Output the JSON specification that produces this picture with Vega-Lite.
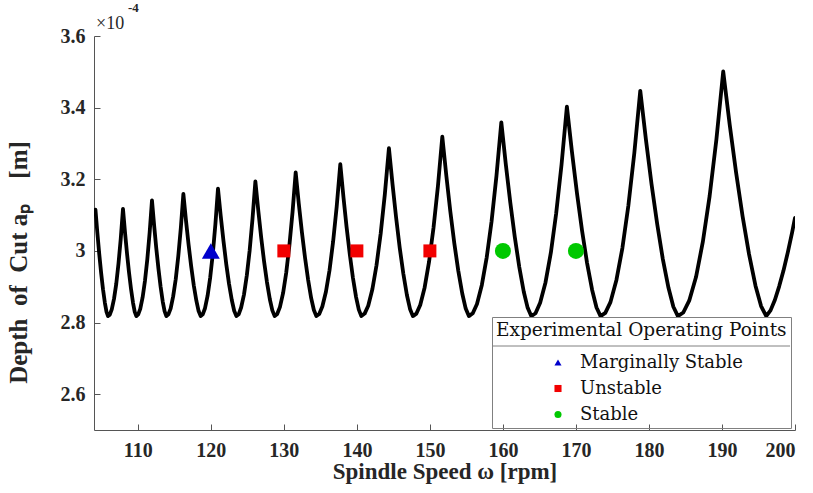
{
  "$schema": "https://vega.github.io/schema/vega-lite/v6.json",
  "width": 701,
  "height": 394,
  "autosize": {"type": "none"},
  "padding": {"left": 94, "top": 36, "right": 18, "bottom": 63},
  "background": "white",
  "config": {
    "view": {"stroke": null},
    "axis": {
      "grid": false,
      "labelFont": "Liberation Serif",
      "titleFont": "Liberation Serif",
      "labelFontWeight": "bold",
      "titleFontWeight": "bold",
      "labelFontSize": 20,
      "titleFontSize": 23,
      "labelColor": "#262626",
      "titleColor": "#262626",
      "domainColor": "#555555",
      "tickColor": "#555555",
      "tickSize": -6
    },
    "legend": {
      "orient": "none", "legendX": 398, "legendY": 281,
      "strokeColor": "#808080", "padding": 4,
      "titleFont": "DejaVu Serif", "titleFontSize": 18.5, "titleFontWeight": "normal", "titleColor": "#111111",
      "titleAnchor": "start", "titlePadding": 14, "titleLimit": 500,
      "labelFont": "DejaVu Serif", "labelFontSize": 18, "labelColor": "#111111", "labelLimit": 400,
      "symbolSize": 50, "symbolOffset": 53, "labelOffset": 13, "rowPadding": 8
    }
  },
  "datasets": {
    "lobes": [
      {"speed":104.2,"depth":3.115},{"speed":104.458,"depth":3.051},{"speed":104.716,"depth":2.992},{"speed":104.974,"depth":2.939},{"speed":105.232,"depth":2.893},{"speed":105.49,"depth":2.855},{"speed":105.714,"depth":2.830},{"speed":105.92,"depth":2.818},{"speed":106.166,"depth":2.822},{"speed":106.433,"depth":2.837},{"speed":106.74,"depth":2.866},{"speed":107.048,"depth":2.908},{"speed":107.355,"depth":2.965},{"speed":107.663,"depth":3.034},
      {"speed":107.97,"depth":3.117},{"speed":108.245,"depth":3.052},{"speed":108.519,"depth":2.993},{"speed":108.794,"depth":2.940},{"speed":109.068,"depth":2.894},{"speed":109.343,"depth":2.855},{"speed":109.58,"depth":2.830},{"speed":109.8,"depth":2.818},{"speed":110.057,"depth":2.823},{"speed":110.335,"depth":2.838},{"speed":110.656,"depth":2.870},{"speed":110.977,"depth":2.916},{"speed":111.298,"depth":2.976},{"speed":111.619,"depth":3.051},
      {"speed":111.94,"depth":3.141},{"speed":112.236,"depth":3.071},{"speed":112.531,"depth":3.007},{"speed":112.827,"depth":2.950},{"speed":113.122,"depth":2.900},{"speed":113.418,"depth":2.858},{"speed":113.674,"depth":2.831},{"speed":113.91,"depth":2.818},{"speed":114.19,"depth":2.823},{"speed":114.493,"depth":2.839},{"speed":114.842,"depth":2.873},{"speed":115.192,"depth":2.921},{"speed":115.541,"depth":2.985},{"speed":115.891,"depth":3.064},
      {"speed":116.24,"depth":3.159},{"speed":116.596,"depth":3.085},{"speed":116.951,"depth":3.018},{"speed":117.307,"depth":2.957},{"speed":117.662,"depth":2.904},{"speed":118.018,"depth":2.861},{"speed":118.326,"depth":2.832},{"speed":118.61,"depth":2.818},{"speed":118.894,"depth":2.823},{"speed":119.203,"depth":2.840},{"speed":119.558,"depth":2.875},{"speed":119.914,"depth":2.926},{"speed":120.269,"depth":2.992},{"speed":120.625,"depth":3.075},
      {"speed":120.98,"depth":3.174},{"speed":121.358,"depth":3.097},{"speed":121.736,"depth":3.027},{"speed":122.114,"depth":2.963},{"speed":122.492,"depth":2.908},{"speed":122.87,"depth":2.863},{"speed":123.198,"depth":2.833},{"speed":123.5,"depth":2.818},{"speed":123.812,"depth":2.823},{"speed":124.15,"depth":2.842},{"speed":124.54,"depth":2.878},{"speed":124.93,"depth":2.932},{"speed":125.32,"depth":3.002},{"speed":125.71,"depth":3.090},
      {"speed":126.1,"depth":3.194},{"speed":126.496,"depth":3.113},{"speed":126.892,"depth":3.038},{"speed":127.288,"depth":2.971},{"speed":127.684,"depth":2.913},{"speed":128.08,"depth":2.865},{"speed":128.423,"depth":2.834},{"speed":128.74,"depth":2.818},{"speed":129.086,"depth":2.824},{"speed":129.46,"depth":2.843},{"speed":129.892,"depth":2.882},{"speed":130.324,"depth":2.939},{"speed":130.756,"depth":3.015},{"speed":131.188,"depth":3.108},
      {"speed":131.62,"depth":3.219},{"speed":132.045,"depth":3.132},{"speed":132.469,"depth":3.053},{"speed":132.894,"depth":2.982},{"speed":133.318,"depth":2.920},{"speed":133.743,"depth":2.868},{"speed":134.11,"depth":2.835},{"speed":134.45,"depth":2.818},{"speed":134.844,"depth":2.824},{"speed":135.27,"depth":2.845},{"speed":135.762,"depth":2.886},{"speed":136.254,"depth":2.946},{"speed":136.746,"depth":3.026},{"speed":137.238,"depth":3.124},
      {"speed":137.73,"depth":3.242},{"speed":138.162,"depth":3.150},{"speed":138.594,"depth":3.066},{"speed":139.026,"depth":2.991},{"speed":139.458,"depth":2.925},{"speed":139.89,"depth":2.871},{"speed":140.264,"depth":2.836},{"speed":140.61,"depth":2.818},{"speed":141.064,"depth":2.825},{"speed":141.555,"depth":2.847},{"speed":142.122,"depth":2.893},{"speed":142.689,"depth":2.960},{"speed":143.256,"depth":3.048},{"speed":143.823,"depth":3.157},
      {"speed":144.39,"depth":3.287},{"speed":144.882,"depth":3.186},{"speed":145.374,"depth":3.093},{"speed":145.866,"depth":3.009},{"speed":146.358,"depth":2.937},{"speed":146.85,"depth":2.877},{"speed":147.276,"depth":2.838},{"speed":147.67,"depth":2.818},{"speed":148.154,"depth":2.825},{"speed":148.678,"depth":2.849},{"speed":149.282,"depth":2.898},{"speed":149.887,"depth":2.970},{"speed":150.491,"depth":3.064},{"speed":151.096,"depth":3.180},
      {"speed":151.7,"depth":3.319},{"speed":152.246,"depth":3.211},{"speed":152.792,"depth":3.111},{"speed":153.338,"depth":3.022},{"speed":153.884,"depth":2.945},{"speed":154.43,"depth":2.881},{"speed":154.903,"depth":2.839},{"speed":155.34,"depth":2.818},{"speed":155.873,"depth":2.826},{"speed":156.45,"depth":2.852},{"speed":157.116,"depth":2.905},{"speed":157.782,"depth":2.982},{"speed":158.448,"depth":3.083},{"speed":159.114,"depth":3.209},
      {"speed":159.78,"depth":3.359},{"speed":160.395,"depth":3.242},{"speed":161.01,"depth":3.135},{"speed":161.625,"depth":3.039},{"speed":162.24,"depth":2.955},{"speed":162.855,"depth":2.886},{"speed":163.388,"depth":2.841},{"speed":163.88,"depth":2.818},{"speed":164.466,"depth":2.826},{"speed":165.1,"depth":2.855},{"speed":165.832,"depth":2.912},{"speed":166.564,"depth":2.995},{"speed":167.296,"depth":3.105},{"speed":168.028,"depth":3.241},
      {"speed":168.76,"depth":3.403},{"speed":169.452,"depth":3.277},{"speed":170.143,"depth":3.161},{"speed":170.835,"depth":3.057},{"speed":171.526,"depth":2.966},{"speed":172.218,"depth":2.891},{"speed":172.817,"depth":2.842},{"speed":173.37,"depth":2.818},{"speed":174.023,"depth":2.827},{"speed":174.73,"depth":2.857},{"speed":175.546,"depth":2.919},{"speed":176.362,"depth":3.008},{"speed":177.178,"depth":3.126},{"speed":177.994,"depth":3.273},
      {"speed":178.81,"depth":3.447},{"speed":179.583,"depth":3.311},{"speed":180.355,"depth":3.186},{"speed":181.128,"depth":3.075},{"speed":181.9,"depth":2.977},{"speed":182.673,"depth":2.897},{"speed":183.342,"depth":2.844},{"speed":183.96,"depth":2.818},{"speed":184.705,"depth":2.828},{"speed":185.513,"depth":2.861},{"speed":186.444,"depth":2.927},{"speed":187.376,"depth":3.025},{"speed":188.307,"depth":3.153},{"speed":189.239,"depth":3.312},
      {"speed":190.17,"depth":3.501},{"speed":191.054,"depth":3.353},{"speed":191.937,"depth":3.218},{"speed":192.821,"depth":3.097},{"speed":193.704,"depth":2.991},{"speed":194.588,"depth":2.903},{"speed":195.353,"depth":2.846},{"speed":196.06,"depth":2.818},{"speed":196.651,"depth":2.834},{"speed":197.242,"depth":2.863},{"speed":197.833,"depth":2.901},{"speed":198.424,"depth":2.945},{"speed":199.015,"depth":2.996},{"speed":199.606,"depth":3.052},{"speed":200,"depth":3.092}
    ],
    "points": [
      {"speed":120,"depth":3.0,"result":"Marginally Stable"},
      {"speed":130,"depth":3.0,"result":"Unstable"},
      {"speed":140,"depth":3.0,"result":"Unstable"},
      {"speed":150,"depth":3.0,"result":"Unstable"},
      {"speed":160,"depth":3.0,"result":"Stable"},
      {"speed":170,"depth":3.0,"result":"Stable"}
    ]
  },
  "layer": [
    {
      "data": {"name": "lobes"},
      "mark": {"type": "line", "color": "black", "strokeWidth": 3.8, "strokeJoin": "round", "strokeCap": "round", "clip": true},
      "encoding": {
        "x": {
          "field": "speed", "type": "quantitative",
          "scale": {"domain": [104, 200], "nice": false, "zero": false},
          "axis": {
            "values": [110, 120, 130, 140, 150, 160, 170, 180, 190, 200],
            "format": "d",
            "title": "Spindle Speed ω [rpm]",
            "labelPadding": 16,
            "titleY": 48,
            "titleBaseline": "alphabetic"
          }
        },
        "y": {
          "field": "depth", "type": "quantitative",
          "scale": {"domain": [2.5, 3.6], "nice": false, "zero": false},
          "axis": {
            "values": [2.6, 2.8, 3.0, 3.2, 3.4, 3.6],
            "format": ".1~f",
            "title": "Depth\u2002of\u2002Cut a\u209a\u2003[m]",
            "titleFontSize": 25,
            "labelPadding": 15,
            "titleX": -68,
            "titleY": 226,
            "titleBaseline": "alphabetic"
          }
        }
      }
    },
    {
      "data": {"name": "points"},
      "transform": [{"filter": "datum.result === 'Marginally Stable'"}],
      "mark": {"type": "point", "filled": true, "opacity": 1, "size": 320},
      "encoding": {
        "x": {"field": "speed", "type": "quantitative"},
        "y": {"field": "depth", "type": "quantitative"},
        "color": {
          "field": "result", "type": "nominal",
          "scale": {"domain": ["Marginally Stable", "Unstable", "Stable"], "range": ["#0000CC", "#F20000", "#00C800"]},
          "legend": {"title": "Experimental Operating Points"}
        },
        "shape": {
          "field": "result", "type": "nominal",
          "scale": {"domain": ["Marginally Stable", "Unstable", "Stable"], "range": ["triangle-up", "square", "circle"]},
          "legend": {"title": "Experimental Operating Points"}
        }
      }
    },
    {
      "data": {"name": "points"},
      "transform": [{"filter": "datum.result === 'Unstable'"}],
      "mark": {"type": "point", "filled": true, "opacity": 1, "size": 169},
      "encoding": {
        "x": {"field": "speed", "type": "quantitative"},
        "y": {"field": "depth", "type": "quantitative"},
        "color": {"field": "result", "type": "nominal", "legend": {"title": "Experimental Operating Points"}},
        "shape": {"field": "result", "type": "nominal", "legend": {"title": "Experimental Operating Points"}}
      }
    },
    {
      "data": {"name": "points"},
      "transform": [{"filter": "datum.result === 'Stable'"}],
      "mark": {"type": "point", "filled": true, "opacity": 1, "size": 256},
      "encoding": {
        "x": {"field": "speed", "type": "quantitative"},
        "y": {"field": "depth", "type": "quantitative"},
        "color": {"field": "result", "type": "nominal", "legend": {"title": "Experimental Operating Points"}},
        "shape": {"field": "result", "type": "nominal", "legend": {"title": "Experimental Operating Points"}}
      }
    },
    {
      "data": {"values": [{}]},
      "mark": {"type": "rule", "color": "#808080", "strokeWidth": 1},
      "encoding": {
        "x": {"datum": 158.51},
        "x2": {"datum": 199.32},
        "y": {"datum": 2.7345}
      }
    },
    {
      "data": {"values": [{}]},
      "mark": {"type": "text", "font": "Liberation Serif", "fontSize": 18, "align": "left", "baseline": "alphabetic", "dx": 2, "dy": -7, "color": "#262626"},
      "encoding": {
        "x": {"datum": 104},
        "y": {"datum": 3.6},
        "text": {"value": "×10"}
      }
    },
    {
      "data": {"values": [{}]},
      "mark": {"type": "text", "font": "Liberation Serif", "fontSize": 13, "fontWeight": "bold", "align": "left", "baseline": "alphabetic", "dx": 34, "dy": -24, "color": "#262626"},
      "encoding": {
        "x": {"datum": 104},
        "y": {"datum": 3.6},
        "text": {"value": "-4"}
      }
    }
  ]
}
